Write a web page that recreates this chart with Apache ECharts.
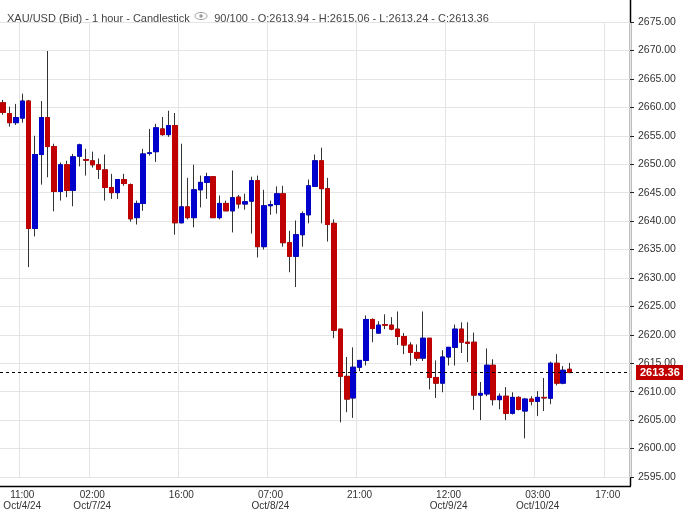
<!DOCTYPE html>
<html>
<head>
<meta charset="utf-8">
<script src="https://cdn.jsdelivr.net/npm/echarts@6/dist/echarts.min.js"></script>
<style>html,body{margin:0;background:#fff}#c{width:683px;height:512px}</style>
</head>
<body>
<div id="c"></div>
<script>
// XAU/USD hourly candles
const opens = [2660.8,2658.9,2657.3,2658.1,2661.1,2638.7,2651.7,2658.2,2653.1,2645.2,
  2649.9,2645.4,2651.4,2650.8,2650.6,2649.9,2649.0,2645.9,2645.0,2647.3,
  2646.4,2640.6,2643.1,2651.9,2652.2,2656.2,2655.2,2656.8,2639.7,2642.5,
  2640.6,2645.5,2646.8,2647.8,2640.6,2643.1,2641.8,2644.2,2643.0,2643.5,
  2647.1,2635.5,2642.7,2642.9,2644.8,2636.2,2633.8,2637.6,2641.1,2646.1,
  2650.6,2645.7,2639.6,2621.0,2612.7,2608.9,2614.3,2615.5,2622.7,2620.3,
  2621.8,2621.7,2621.0,2619.7,2618.2,2616.9,2615.9,2619.4,2612.5,2611.5,
  2616.1,2617.8,2621.0,2618.7,2618.7,2609.4,2609.6,2614.65,2608.6,2609.2,
  2606.2,2609.0,2606.6,2608.7,2608.3,2609.0,2608.85,2615.0,2611.5,2613.94];
const closes = [2659.1,2657.3,2658.2,2661.1,2638.7,2651.7,2658.2,2653.1,2645.2,2649.9,
  2645.4,2651.3,2653.4,2650.7,2649.9,2649.1,2645.9,2645.0,2647.3,2646.6,
  2640.4,2643.1,2651.8,2652.0,2656.4,2655.2,2656.8,2639.7,2642.5,2640.6,
  2645.5,2646.8,2647.8,2640.6,2643.1,2641.8,2644.1,2643.0,2643.4,2647.1,
  2635.5,2642.7,2642.9,2644.8,2636.2,2633.8,2637.6,2641.3,2646.2,2650.6,
  2645.7,2639.4,2620.8,2612.7,2608.7,2614.3,2615.5,2622.7,2621.1,2621.7,
  2621.7,2621.0,2619.7,2618.2,2616.9,2615.9,2619.4,2612.5,2611.5,2616.1,
  2617.8,2621.0,2618.7,2618.5,2609.4,2609.7,2614.65,2608.6,2609.2,2606.2,
  2609.0,2606.9,2608.7,2608.3,2609.0,2608.9,2615.0,2611.5,2613.77,2613.36];
const lows = [2658.7,2656.6,2656.9,2657.3,2631.9,2637.3,2646.4,2647.7,2641.7,2643.6,
  2644.2,2642.6,2649.6,2648.0,2649.4,2647.4,2643.6,2643.9,2643.9,2646.2,
  2639.9,2639.4,2641.8,2651.5,2650.4,2655.0,2654.8,2637.6,2639.6,2640.3,
  2638.9,2642.4,2643.9,2640.6,2640.3,2641.8,2638.0,2642.2,2642.0,2637.8,
  2633.6,2635.0,2641.1,2641.3,2635.5,2631.0,2628.4,2635.5,2639.6,2646.1,
  2639.6,2636.4,2619.4,2604.6,2606.4,2605.4,2613.6,2614.6,2618.7,2620.3,
  2621.0,2620.8,2618.2,2616.6,2614.6,2615.4,2615.4,2610.4,2608.9,2609.9,
  2614.6,2614.6,2616.8,2615.2,2606.8,2605.0,2609.2,2607.6,2606.9,2605.0,
  2606.0,2606.7,2601.8,2607.6,2605.7,2606.6,2607.8,2611.1,2611.3,2613.24];
const highs = [2661.3,2660.1,2660.6,2662.4,2661.3,2655.0,2661.1,2669.9,2653.6,2650.3,
  2650.6,2651.8,2653.6,2652.7,2652.2,2651.0,2651.7,2648.3,2647.3,2648.3,
  2646.6,2643.6,2652.7,2656.2,2657.1,2658.3,2659.4,2659.0,2653.6,2647.6,
  2649.9,2648.0,2648.5,2647.8,2644.5,2643.6,2648.9,2644.6,2644.8,2647.8,
  2648.0,2645.5,2643.6,2646.1,2646.2,2638.3,2640.1,2641.7,2647.3,2651.7,
  2652.9,2647.6,2640.3,2621.0,2616.1,2617.8,2615.5,2623.4,2622.9,2622.4,
  2623.6,2623.1,2624.1,2620.3,2618.7,2618.3,2624.1,2619.4,2615.5,2617.3,
  2617.8,2621.8,2622.2,2622.2,2620.4,2611.7,2617.6,2615.7,2609.7,2610.8,
  2609.9,2609.2,2608.9,2609.2,2610.1,2612.4,2615.3,2616.6,2614.5,2615.06];

const slotCount = 99;
const timeLabels = {3: "11:00\nOct/4/24", 14: "02:00\nOct/7/24", 28: "16:00", 42: "07:00\nOct/8/24",
  56: "21:00", 70: "12:00\nOct/9/24", 84: "03:00\nOct/10/24", 95: "17:00"};
const lastPrice = 2613.36;

const categories = [];
for (let i = 0; i < slotCount; i++) categories.push(timeLabels[i] || "");

const wicks = opens.map((o, i) => [o, closes[i], lows[i], highs[i]]);
const bodies = opens.map((o, i) => [o, closes[i], Math.min(o, closes[i]), Math.max(o, closes[i])]);
const shown = (i) => !!timeLabels[i];

const chart = echarts.init(document.getElementById("c"));
chart.setOption({
  animation: false,
  backgroundColor: "#fff",
  title: {
    text: "XAU/USD (Bid) - 1 hour - Candlestick        90/100 - O:2613.94 - H:2615.06 - L:2613.24 - C:2613.36",
    left: 2, top: 8,
    textStyle: { fontFamily: "Liberation Sans", fontSize: 11, fontWeight: "normal", color: "#444" }
  },
  grid: { left: 0, right: 53, top: 22, bottom: 34 },
  xAxis: {
    type: "category", data: categories, offset: 8,
    axisLine: { show: false },
    axisTick: { interval: shown, length: 4, lineStyle: { color: "#222" } },
    axisLabel: { interval: shown, fontFamily: "Liberation Sans", fontSize: 10, color: "#333", lineHeight: 11, margin: 5 },
    splitLine: { show: true, interval: shown, lineStyle: { color: "#e4e4e4" } }
  },
  yAxis: {
    type: "value", position: "right", min: 2595, max: 2675, interval: 5,
    axisLine: { show: false },
    axisTick: { show: true, length: 4, lineStyle: { color: "#222" } },
    axisLabel: { formatter: (v) => v.toFixed(2), fontFamily: "Liberation Sans", fontSize: 10.5, color: "#333", margin: 8 },
    splitLine: { lineStyle: { color: "#e4e4e4" } }
  },
  graphic: [
    { type: "line", shape: { x1: 630.5, y1: 0, x2: 630.5, y2: 486 }, style: { stroke: "#000", lineWidth: 1.5 } },
    { type: "line", shape: { x1: 0, y1: 486.5, x2: 631, y2: 486.5 }, style: { stroke: "#000", lineWidth: 1.5 } },
    { type: "ellipse", shape: { cx: 201, cy: 16, rx: 6, ry: 3.5 }, style: { fill: "none", stroke: "#999", lineWidth: 1 } },
    { type: "circle", shape: { cx: 201, cy: 16, r: 1.8 }, style: { fill: "#999" } }
  ],
  series: [
    {
      type: "candlestick", data: wicks, barWidth: 5,
      itemStyle: { color: "transparent", color0: "transparent", borderColor: "#333", borderColor0: "#333", borderWidth: 1 },
      markLine: {
        symbol: "none", silent: true,
        lineStyle: { color: "#000", type: [3, 3], width: 1 },
        label: {
          position: "end", formatter: lastPrice.toFixed(2), color: "#fff", backgroundColor: "#c00000",
          fontFamily: "Liberation Sans", fontSize: 11, fontWeight: "bold", padding: [2, 4], distance: 6
        },
        data: [{ yAxis: lastPrice }]
      }
    },
    {
      type: "candlestick", data: bodies, barWidth: 5,
      itemStyle: { color: "#0000cc", color0: "#c00000", borderColor: "#0000cc", borderColor0: "#c00000", borderWidth: 1 }
    }
  ]
});
</script>
</body>
</html>
